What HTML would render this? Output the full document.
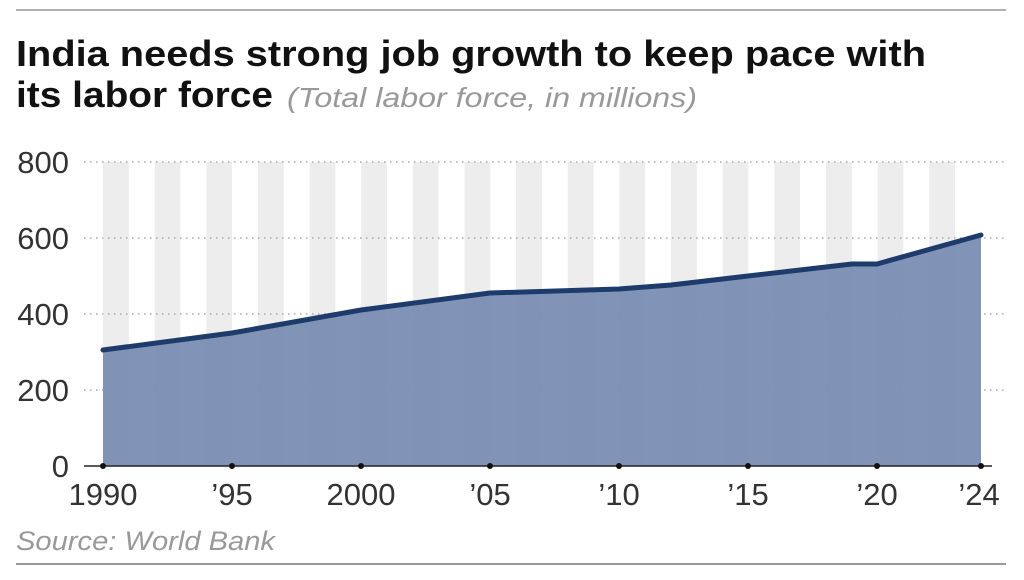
<!DOCTYPE html>
<html><head><meta charset="utf-8"><style>
body{margin:0;width:1024px;height:575px;background:#fff;overflow:hidden;font-family:"Liberation Sans",sans-serif}
</style></head><body>
<svg width="1024" height="575" xmlns="http://www.w3.org/2000/svg">
<line x1="16" y1="10" x2="1006" y2="10" stroke="#999" stroke-width="1.5"/>
<line x1="16" y1="564" x2="1006" y2="564" stroke="#777" stroke-width="1.5"/>
<text x="16" y="66" font-size="36" font-weight="bold" fill="#111" textLength="910" lengthAdjust="spacingAndGlyphs">India needs strong job growth to keep pace with</text>
<text x="16" y="107" font-size="36" font-weight="bold" fill="#111" textLength="257" lengthAdjust="spacingAndGlyphs">its labor force</text>
<text x="287" y="107" font-size="28" font-style="italic" fill="#999" textLength="410" lengthAdjust="spacingAndGlyphs">(Total labor force, in millions)</text>
<g fill="#ededed">
<rect x="103" y="162" width="25.8" height="304"/><rect x="154.6" y="162" width="25.8" height="304"/><rect x="206.3" y="162" width="25.8" height="304"/><rect x="257.9" y="162" width="25.8" height="304"/><rect x="309.6" y="162" width="25.8" height="304"/><rect x="361.2" y="162" width="25.8" height="304"/><rect x="412.8" y="162" width="25.8" height="304"/><rect x="464.5" y="162" width="25.8" height="304"/><rect x="516.1" y="162" width="25.8" height="304"/><rect x="567.8" y="162" width="25.8" height="304"/><rect x="619.4" y="162" width="25.8" height="304"/><rect x="671" y="162" width="25.8" height="304"/><rect x="722.7" y="162" width="25.8" height="304"/><rect x="774.3" y="162" width="25.8" height="304"/><rect x="826" y="162" width="25.8" height="304"/><rect x="877.6" y="162" width="25.8" height="304"/><rect x="929.2" y="162" width="25.8" height="304"/>
</g>
<g stroke="#aaa" stroke-width="1.5" stroke-dasharray="1.5 4.5">
<line x1="84" y1="162" x2="1004" y2="162"/><line x1="84" y1="238" x2="1004" y2="238"/><line x1="84" y1="314" x2="1004" y2="314"/><line x1="84" y1="390" x2="1004" y2="390"/>
</g>
<polygon fill="#7a8db3" fill-opacity="0.95" points="103,466 103,350 232,333 361,310 490,293 619,289 671,285 748,276 852,264 877,264 981,235 981,466"/>
<polyline fill="none" stroke="#1e3c6b" stroke-width="5" stroke-linejoin="round" stroke-linecap="round" points="103,350 232,333 361,310 490,293 619,289 671,285 748,276 852,264 877,264 981,235"/>
<line x1="84" y1="466" x2="992" y2="466" stroke="#222" stroke-width="1.5"/>
<g fill="#111"><circle cx="103" cy="466" r="3"/><circle cx="232" cy="466" r="3"/><circle cx="361" cy="466" r="3"/><circle cx="490" cy="466" r="3"/><circle cx="619" cy="466" r="3"/><circle cx="748" cy="466" r="3"/><circle cx="877" cy="466" r="3"/><circle cx="981" cy="466" r="3"/></g>
<g font-size="31" fill="#333" text-anchor="end">
<text x="69" y="173">800</text><text x="69" y="249">600</text><text x="69" y="325">400</text><text x="69" y="401">200</text><text x="69" y="477">0</text>
</g>
<g font-size="31" fill="#333" text-anchor="middle">
<text x="103" y="505">1990</text><text x="232" y="505">’95</text><text x="361" y="505">2000</text><text x="490" y="505">’05</text><text x="619" y="505">’10</text><text x="748" y="505">’15</text><text x="877" y="505">’20</text><text x="979" y="505">’24</text>
</g>
<text x="16" y="550" font-size="27" font-style="italic" fill="#999" textLength="259" lengthAdjust="spacingAndGlyphs">Source: World Bank</text>
</svg>
</body></html>
